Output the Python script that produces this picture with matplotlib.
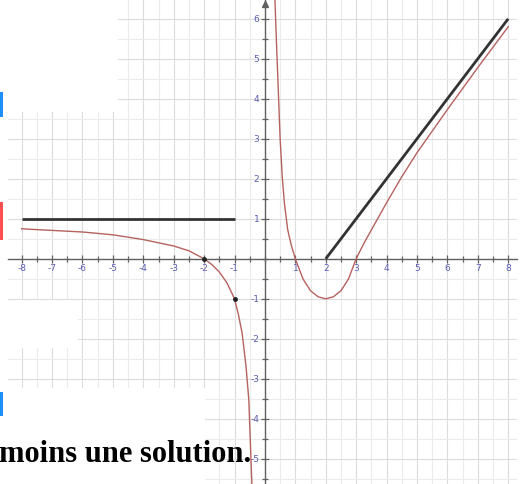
import matplotlib
matplotlib.use('Agg')
import matplotlib.pyplot as plt
from matplotlib.patches import Rectangle
from matplotlib.ticker import FixedLocator, MultipleLocator

# courbe (branche gauche, x < 0)
left_x = [-8, -7, -6, -5, -4, -3, -2.5, -2, -1.75, -1.5, -1.25, -1, -0.87, -0.75, -0.62, -0.53, -0.49, -0.45, -0.43]
left_y = [0.75, 0.71, 0.67, 0.6, 0.48, 0.32, 0.2, 0, -0.14, -0.33, -0.6, -1, -1.4, -1.86, -2.7, -3.53, -4.36, -5.2, -5.63]

# courbe (branche droite, x > 0)
right_x = [0.33, 0.37, 0.40, 0.45, 0.50, 0.57, 0.64, 0.75, 0.87, 1.0, 1.25, 1.5, 1.75, 2.0, 2.25, 2.5, 2.75, 3.0, 3.25, 3.5, 4.0, 4.5, 5.0, 6.0, 7.0, 8.0]
right_y = [6.47, 5.6, 5.0, 4.0, 3.0, 2.05, 1.39, 0.72, 0.33, 0, -0.5, -0.8, -0.95, -1, -0.95, -0.8, -0.5, 0, 0.38, 0.72, 1.4, 2.05, 2.65, 3.73, 4.78, 5.8]

# segments noirs
seg1_x = [-8, -1]
seg1_y = [1, 1]
seg2_x = [2, 8]
seg2_y = [0, 6]

# points marqués
pts_x = [-2, -1]
pts_y = [0, -1]

xticks = [-8, -7, -6, -5, -4, -3, -2, -1, 1, 2, 3, 4, 5, 6, 7, 8]
yticks = [-5, -4, -3, -2, -1, 1, 2, 3, 4, 5, 6]

W, H = 525, 484
fig = plt.figure(figsize=(W / 100, H / 100), dpi=100)
ax = fig.add_axes([8 / W, 0, 509 / W, 1])
ax.set_xlim(-8.45, 8.29)
ax.set_ylim(-5.63, 6.47)

ax.xaxis.set_major_locator(FixedLocator(xticks))
ax.yaxis.set_major_locator(FixedLocator(yticks))
ax.set_xticklabels([str(v) for v in xticks])
ax.set_yticklabels([str(v) for v in yticks])
ax.xaxis.set_minor_locator(MultipleLocator(0.5))
ax.yaxis.set_minor_locator(MultipleLocator(0.5))

ax.grid(which='major', color='#dcdcdc', lw=0.8)
ax.grid(which='minor', color='#ebebeb', lw=0.8)
ax.set_axisbelow(True)

for s in ['top', 'right']:
    ax.spines[s].set_visible(False)
ax.spines['left'].set_position('zero')
ax.spines['bottom'].set_position('zero')
for s in ['left', 'bottom']:
    ax.spines[s].set_color('#606060')
    ax.spines[s].set_linewidth(1.0)

ax.tick_params(which='major', direction='inout', length=6, width=0.9, color='#606060',
               labelcolor='#5c5cb0', labelsize=6.5, pad=1)
ax.tick_params(which='minor', direction='inout', length=5, width=0.9, color='#606060')

ax.plot(0, 6.36, marker='^', ms=4, color='#606060', clip_on=False)

ax.plot(left_x, left_y, color='#b5625e', lw=1.0, zorder=3)
ax.plot(right_x, right_y, color='#b5625e', lw=1.0, zorder=3)
ax.plot(seg1_x, seg1_y, color='#333333', lw=2.0, solid_capstyle='butt', zorder=4)
ax.plot(seg2_x, seg2_y, color='#333333', lw=2.0, solid_capstyle='butt', zorder=4)
ax.plot(pts_x, pts_y, 'o', color='#222222', ms=2.5, zorder=5)


def rect_px(x0, y0, x1, y1, color='white'):
    fig.add_artist(Rectangle((x0 / W, 1 - y1 / H), (x1 - x0) / W, (y1 - y0) / H,
                             transform=fig.transFigure, facecolor=color,
                             edgecolor='none', zorder=10))


# zones masquées par le texte du document
rect_px(0, 0, 118, 112)
rect_px(0, 299.5, 78, 348)
rect_px(0, 388, 205, 484)

# marques de couleur en marge
rect_px(0, 92, 3, 117, '#1e8fff')
rect_px(0, 202, 3, 240, '#ff4f4f')
rect_px(0, 392, 3, 416, '#1e8fff')

fig.text(-1 / W, 1 - 462 / H, 'moins une solution.', fontsize=22, fontweight='bold',
         family='Liberation Serif', color='black', va='baseline', ha='left', zorder=11)

plt.savefig('out.png', dpi=100)
